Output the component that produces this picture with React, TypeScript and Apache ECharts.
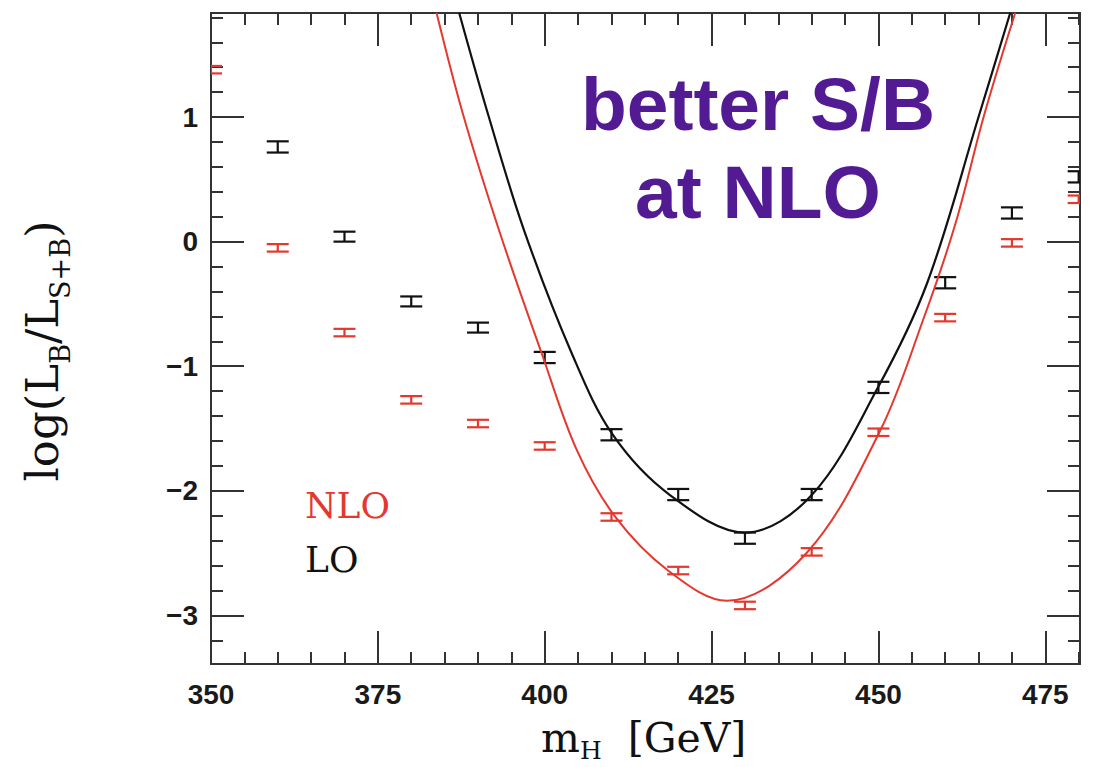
import React, { useEffect, useRef } from 'react';
import * as echarts from 'echarts';

// ---- data ----
const xMajorTicks = [350, 375, 400, 425, 450, 475];
const xMinorTicks = [355, 360, 365, 370, 380, 385, 390, 395, 405, 410, 415, 420, 430, 435, 440, 445, 455, 460, 465, 470, 480];
const yMajorTicks = [-3, -2, -1, 0, 1];
const yMinorTicks = [-3.2, -2.8, -2.6, -2.4, -2.2, -1.8, -1.6, -1.4, -1.2, -0.8, -0.6, -0.4, -0.2, 0.2, 0.4, 0.6, 0.8, 1.2, 1.4, 1.6, 1.8];

const loMass = [360, 370, 380, 390, 400, 410, 420, 430, 440, 450, 460, 470, 480];
const loValue = [0.76, 0.04, -0.48, -0.69, -0.93, -1.55, -2.03, -2.38, -2.03, -1.17, -0.33, 0.23, 0.52];
const loError = [0.045, 0.04, 0.04, 0.04, 0.045, 0.045, 0.045, 0.045, 0.045, 0.045, 0.045, 0.045, 0.045];

const nloMass = [350, 360, 370, 380, 390, 400, 410, 420, 430, 440, 450, 460, 470, 480];
const nloValue = [1.38, -0.05, -0.73, -1.27, -1.46, -1.64, -2.21, -2.64, -2.92, -2.49, -1.53, -0.61, -0.01, 0.34];
const nloError = [0.03, 0.03, 0.03, 0.03, 0.03, 0.03, 0.03, 0.03, 0.03, 0.03, 0.03, 0.03, 0.03, 0.03];

const loCurveMass = [387.18, 391.53, 396.88, 404.03, 410.22, 418.76, 430.01, 440.01, 449.96, 457.3, 465.1, 469.75];
const loCurveValue = [1.837, 1.018, 0.095, -0.894, -1.552, -2.034, -2.336, -2.034, -1.167, -0.332, 1.018, 1.837];

const nloCurveMass = [383.79, 387.78, 393.28, 399.53, 404.78, 410.52, 418.47, 427.32, 439.27, 450.25, 456.7, 461.5, 465.85, 470.5];
const nloCurveValue = [1.837, 1.018, 0.071, -0.894, -1.67, -2.205, -2.639, -2.882, -2.497, -1.518, -0.627, 0.137, 1.018, 1.837];

const X_MIN = 350;
const X_MAX = 480.2;
const Y_MIN = -3.39;
const Y_MAX = 1.835;

const FRAME = '#333333';
const RED = '#e4382e';
const BLACK = '#111111';
const PURPLE = '#531b93';
const SERIF = "'DejaVu Serif', 'Liberation Serif', serif";
const SANS = "'Liberation Sans', Arial, sans-serif";

function zip(a: number[], b: number[], c?: number[]) {
  return a.map((v, i) => (c ? [v, b[i], c[i]] : [v, b[i]]));
}

function makeAxis(position: string, min: number, max: number, values: number[], length: number, showLabel: boolean, showLine: boolean, isY: boolean) {
  return {
    type: 'value',
    position,
    min,
    max,
    axisLine: { show: showLine, onZero: false, lineStyle: { color: FRAME, width: 2 } },
    axisTick: { show: true, inside: true, length, customValues: values, lineStyle: { color: FRAME, width: 2 } },
    axisLabel: showLabel
      ? {
          show: true,
          customValues: values,
          fontFamily: SANS,
          fontWeight: 'bold',
          fontSize: 28,
          color: '#1a1a1a',
          margin: isY ? 13 : 16,
          formatter: (v: number) => (v < 0 ? '\u2212' + Math.abs(v) : String(v)),
        }
      : { show: false },
    splitLine: { show: false },
    minorTick: { show: false },
  };
}

function errorBarRender(color: string) {
  return (params: any, api: any) => {
    const x = api.value(0);
    const y = api.value(1);
    const e = api.value(2);
    const top = api.coord([x, y + e]);
    const bot = api.coord([x, y - e]);
    const half = 11;
    const style = { stroke: color, lineWidth: 2.2 };
    return {
      type: 'group',
      children: [
        { type: 'line', shape: { x1: top[0], y1: top[1], x2: bot[0], y2: bot[1] }, style },
        { type: 'line', shape: { x1: top[0] - half, y1: top[1], x2: top[0] + half, y2: top[1] }, style },
        { type: 'line', shape: { x1: bot[0] - half, y1: bot[1], x2: bot[0] + half, y2: bot[1] }, style },
      ],
    };
  };
}

export default function App() {
  const ref = useRef<HTMLDivElement>(null);
  useEffect(() => {
    if (!ref.current) return;
    const chart = echarts.init(ref.current, null, { renderer: 'svg' });
    const option: any = {
      animation: false,
      backgroundColor: '#ffffff',
      grid: { left: 211, right: 19, top: 13, bottom: 103 },
      xAxis: [
        makeAxis('bottom', X_MIN, X_MAX, xMajorTicks, 33, true, true, false),
        makeAxis('bottom', X_MIN, X_MAX, xMinorTicks, 12, false, false, false),
        makeAxis('top', X_MIN, X_MAX, xMajorTicks, 33, false, true, false),
        makeAxis('top', X_MIN, X_MAX, xMinorTicks, 12, false, false, false),
      ],
      yAxis: [
        makeAxis('left', Y_MIN, Y_MAX, yMajorTicks, 33, true, true, true),
        makeAxis('left', Y_MIN, Y_MAX, yMinorTicks, 12, false, false, true),
        makeAxis('right', Y_MIN, Y_MAX, yMajorTicks, 33, false, true, true),
        makeAxis('right', Y_MIN, Y_MAX, yMinorTicks, 12, false, false, true),
      ],
      series: [
        {
          type: 'line',
          name: 'LO fit',
          data: zip(loCurveMass, loCurveValue),
          smooth: 0.35,
          showSymbol: false,
          clip: true,
          lineStyle: { color: BLACK, width: 2.2 },
          xAxisIndex: 0,
          yAxisIndex: 0,
        },
        {
          type: 'line',
          name: 'NLO fit',
          data: zip(nloCurveMass, nloCurveValue),
          smooth: 0.35,
          showSymbol: false,
          clip: true,
          lineStyle: { color: RED, width: 2 },
          xAxisIndex: 0,
          yAxisIndex: 0,
        },
        {
          type: 'custom',
          name: 'LO',
          clip: true,
          data: zip(loMass, loValue, loError),
          renderItem: errorBarRender(BLACK),
          xAxisIndex: 0,
          yAxisIndex: 0,
        },
        {
          type: 'custom',
          name: 'NLO',
          clip: true,
          data: zip(nloMass, nloValue, nloError),
          renderItem: errorBarRender(RED),
          xAxisIndex: 0,
          yAxisIndex: 0,
        },
      ],
      graphic: [
        {
          type: 'text',
          x: 758,
          y: 104,
          style: { text: 'better S/B', fill: PURPLE, fontFamily: SANS, fontWeight: 'bold', fontSize: 75, textAlign: 'center', textVerticalAlign: 'middle', align: 'center', verticalAlign: 'middle' },
        },
        {
          type: 'text',
          x: 758,
          y: 192,
          style: { text: 'at NLO', fill: PURPLE, fontFamily: SANS, fontWeight: 'bold', fontSize: 75, textAlign: 'center', textVerticalAlign: 'middle', align: 'center', verticalAlign: 'middle' },
        },
        {
          type: 'text',
          x: 305,
          y: 505,
          style: { text: 'NLO', fill: RED, fontFamily: SERIF, fontSize: 36, textAlign: 'left', textVerticalAlign: 'middle', align: 'left', verticalAlign: 'middle' },
        },
        {
          type: 'text',
          x: 305,
          y: 559,
          style: { text: 'LO', fill: BLACK, fontFamily: SERIF, fontSize: 36, textAlign: 'left', textVerticalAlign: 'middle', align: 'left', verticalAlign: 'middle' },
        },
        {
          type: 'text',
          x: 541,
          y: 740,
          style: {
            text: '{a|m}{s|H}{a|  [GeV]}',
            fill: BLACK,
            textAlign: 'left',
            textVerticalAlign: 'middle',
            align: 'left',
            verticalAlign: 'middle',
            rich: {
              a: { fontFamily: SERIF, fontSize: 41, lineHeight: 46, verticalAlign: 'top', fill: BLACK },
              s: { fontFamily: SERIF, fontSize: 25, lineHeight: 18, verticalAlign: 'bottom', fill: BLACK },
            },
          },
        },
        {
          type: 'text',
          x: 47,
          y: 351,
          rotation: Math.PI / 2,
          style: {
            text: '{a|log(L}{s|B}{a|/L}{s|S+B}{a|)}',
            fill: BLACK,
            textAlign: 'center',
            textVerticalAlign: 'middle',
            align: 'center',
            verticalAlign: 'middle',
            rich: {
              a: { fontFamily: SERIF, fontSize: 45, lineHeight: 54, verticalAlign: 'top', fill: BLACK },
              s: { fontFamily: SERIF, fontSize: 27, lineHeight: 27, verticalAlign: 'bottom', fill: BLACK },
            },
          },
        },
      ],
    };
    chart.setOption(option);
    return () => chart.dispose();
  }, []);
  return <div ref={ref} style={{ position: 'absolute', left: 0, top: 0, width: 1099, height: 767, background: '#fff' }} />;
}
